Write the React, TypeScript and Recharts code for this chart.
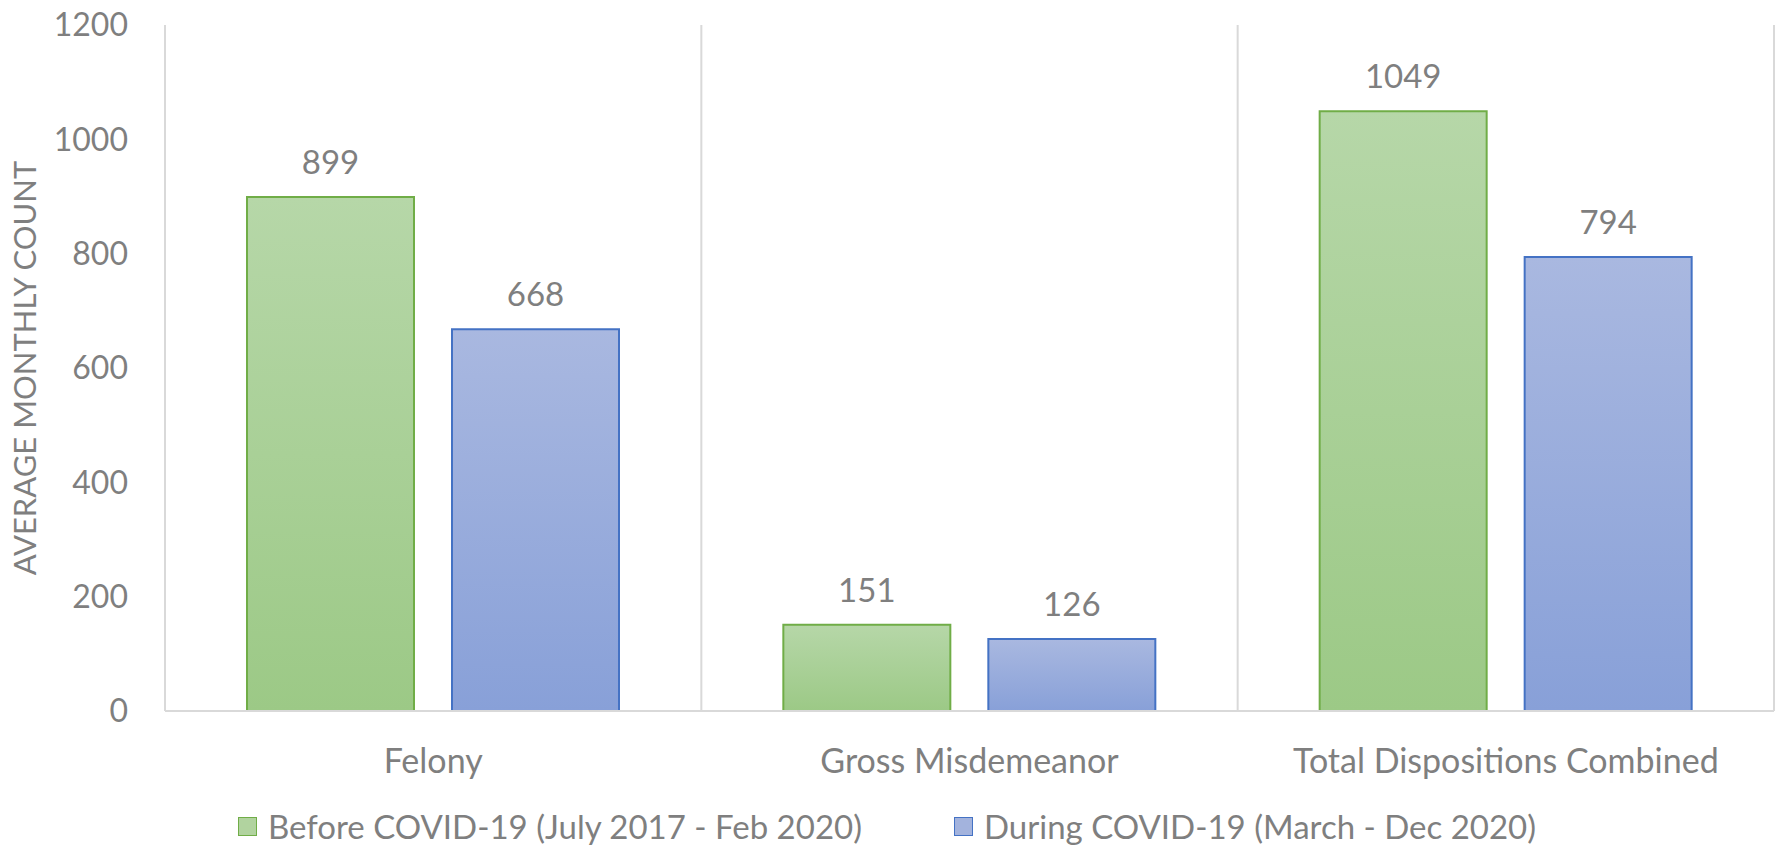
import {
  BarChart,
  Bar,
  XAxis,
  YAxis,
  CartesianGrid,
  LabelList,
  Legend,
} from "recharts";

const categories = ["Felony", "Gross Misdemeanor", "Total Dispositions Combined"];
const beforeCovid = [899, 151, 1049];
const duringCovid = [668, 126, 794];
const yTicks = [0, 200, 400, 600, 800, 1000, 1200];
const seriesNames = [
  "Before COVID-19 (July 2017 - Feb 2020)",
  "During COVID-19 (March - Dec 2020)",
];
const yTitle = "AVERAGE MONTHLY COUNT";

const FONT = "Lato, 'Open Sans', sans-serif";
const TEXT = "#7f7f7f";
const GRID = "#d9d9d9";

const series = [
  { key: "before", name: seriesNames[0], fill: "url(#gradGreen)", stroke: "#70ad47", swatch: "#b1d39f" },
  { key: "during", name: seriesNames[1], fill: "url(#gradBlue)", stroke: "#4472c4", swatch: "#a3b3dd" },
];

const chartData = categories.map((name, i) => ({
  name,
  before: beforeCovid[i],
  during: duringCovid[i],
}));

// gridlines sit between categories (Excel style), not on the ticks
const categoryEdges = ({ offset }: any) =>
  Array.from({ length: categories.length + 1 }, (_, i) =>
    offset.left + (offset.width * i) / categories.length
  );

const LegendContent = () => (
  <div
    style={{
      display: "flex",
      justifyContent: "center",
      alignItems: "center",
      gap: 92,
      height: 40,
      paddingTop: 20,
      fontFamily: FONT,
      fontSize: 33,
      color: TEXT,
    }}
  >
    {series.map((s) => (
      <div key={s.key} style={{ display: "flex", alignItems: "center" }}>
        <span
          style={{
            width: 17,
            height: 17,
            background: s.swatch,
            border: `1.5px solid ${s.stroke}`,
            marginRight: 11,
            display: "inline-block",
          }}
        />
        <span>{s.name}</span>
      </div>
    ))}
  </div>
);

export default function App() {
  return (
    <div style={{ position: "absolute", left: 0, top: 0, background: "#fff" }}>
      <BarChart
        width={1781}
        height={846}
        data={chartData}
        margin={{ top: 25, right: 7, left: 0, bottom: 0 }}
        barSize={167}
        barGap={38}
      >
        <defs>
          <linearGradient id="gradGreen" x1="0" y1="0" x2="0" y2="1">
            <stop offset="0%" stopColor="#b6d7a8" />
            <stop offset="100%" stopColor="#9cc986" />
          </linearGradient>
          <linearGradient id="gradBlue" x1="0" y1="0" x2="0" y2="1">
            <stop offset="0%" stopColor="#a9b8e0" />
            <stop offset="100%" stopColor="#88a0d8" />
          </linearGradient>
        </defs>
        <CartesianGrid
          horizontal={false}
          stroke={GRID}
          strokeWidth={2}
          verticalCoordinatesGenerator={categoryEdges}
        />
        <XAxis
          dataKey="name"
          height={75}
          tickLine={false}
          tickSize={0}
          tickMargin={38}
          axisLine={{ stroke: GRID, strokeWidth: 2 }}
          tick={{ fill: TEXT, fontSize: 34, fontFamily: FONT }}
          interval={0}
        />
        <YAxis
          width={165}
          domain={[0, 1200]}
          ticks={yTicks}
          axisLine={false}
          tickLine={false}
          tickSize={0}
          tickMargin={37}
          tick={{ fill: TEXT, fontSize: 32, fontFamily: FONT }}
          label={{
            value: yTitle,
            angle: -90,
            position: "insideLeft",
            offset: 25,
            fill: TEXT,
            fontSize: 31,
            fontFamily: FONT,
            style: { textAnchor: "middle" },
          }}
        />
        {series.map((s) => (
          <Bar
            key={s.key}
            dataKey={s.key}
            name={s.name}
            fill={s.fill}
            stroke={s.stroke}
            strokeWidth={2}
            isAnimationActive={false}
          >
            <LabelList
              dataKey={s.key}
              position="top"
              offset={23}
              fill={TEXT}
              fontSize={33}
              fontFamily={FONT}
            />
          </Bar>
        ))}
        <Legend verticalAlign="bottom" height={60} content={<LegendContent />} />
      </BarChart>
    </div>
  );
}
